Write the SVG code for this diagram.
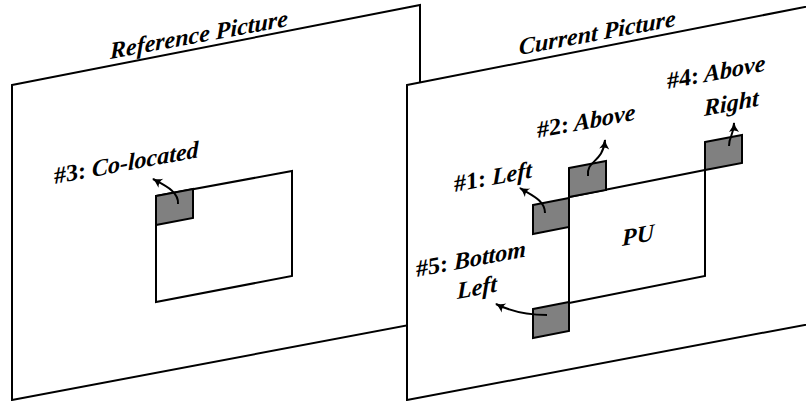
<svg xmlns="http://www.w3.org/2000/svg" width="806" height="401" viewBox="0 0 806 401">
<defs>
<style>
.frame{fill:#fff;stroke:#000;stroke-width:2}
.blk{fill:#808080;stroke:#000;stroke-width:2;stroke-linejoin:miter}
.pu{fill:none;stroke:#000;stroke-width:2}
.lbl{font-family:"Liberation Serif","Times New Roman",serif;font-weight:bold;font-style:italic;font-size:24px;fill:#000}
.num{font-style:normal}
.arr{fill:none;stroke:#000;stroke-width:2;marker-end:url(#ah)}
</style>
<marker id="ah" markerUnits="userSpaceOnUse" markerWidth="12" markerHeight="12" viewBox="0 0 12 12" refX="10" refY="6" orient="auto">
<path d="M1,1 Q6,5 11,6 Q6,7 1,11 Q4,6 1,1 Z" fill="#000"/>
</marker>
</defs>
<g id="reference-picture">
<polygon class="frame" points="12,85 420,5 420,323 12,400"/>
<text class="lbl" transform="translate(110,59) skewY(-10.5)">Reference Picture</text>
<polygon class="pu" points="156,196 292,171 292,276 156,302"/>
<polygon class="blk" points="156,196 193,189 193,218 156,225"/>
<text class="lbl" transform="translate(54,184) skewY(-10.5)"><tspan class="num">#3:</tspan> Co-located</text>
</g>
<g id="current-picture">
<polygon class="frame" points="407,85 820,4 820,322 407,400"/>
<text class="lbl" transform="translate(519,55) skewY(-10.5)">Current Picture</text>
</g>
<g id="pu">
<polygon class="pu" points="569,197 705,170 705,276 569,303"/>
<text class="lbl" transform="translate(622,246) skewY(-10.5)">PU</text>
</g>
<g id="block1">
<polygon class="blk" points="533,205 569,198 569,227 533,234"/>
<text class="lbl" transform="translate(454,192) skewY(-10.5)"><tspan class="num">#1:</tspan> Left</text>
</g>
<g id="block2">
<polygon class="blk" points="569,168 606,161 606,190 569,197"/>
<text class="lbl" transform="translate(537,138) skewY(-10.5)"><tspan class="num">#2:</tspan> Above</text>
</g>
<g id="block4">
<polygon class="blk" points="705,142 742,135 742,163 705,170"/>
<text class="lbl" transform="translate(667,89) skewY(-10.5)"><tspan class="num">#4:</tspan> Above</text>
<text class="lbl" transform="translate(704,116) skewY(-10.5)">Right</text>
</g>
<g id="block5">
<polygon class="blk" points="533,309 569,302 569,331 533,338"/>
<text class="lbl" transform="translate(416,277) skewY(-10.5)"><tspan class="num">#5:</tspan> Bottom</text>
<text class="lbl" transform="translate(457,299) skewY(-10.5)">Left</text>
</g>
<g id="connectors">
<path class="arr" d="M178,204 C179,192 166,186 153,179"/>
<path class="arr" d="M545,213 C545,200 531,195 520,188"/>
<path class="arr" d="M588,176 C586,160 603,163 605,140"/>
<path class="arr" d="M729,146 C729,136 734,135 734,123"/>
<path class="arr" d="M547,315 C530,315 512,312 496,304"/>
</g>
</svg>
